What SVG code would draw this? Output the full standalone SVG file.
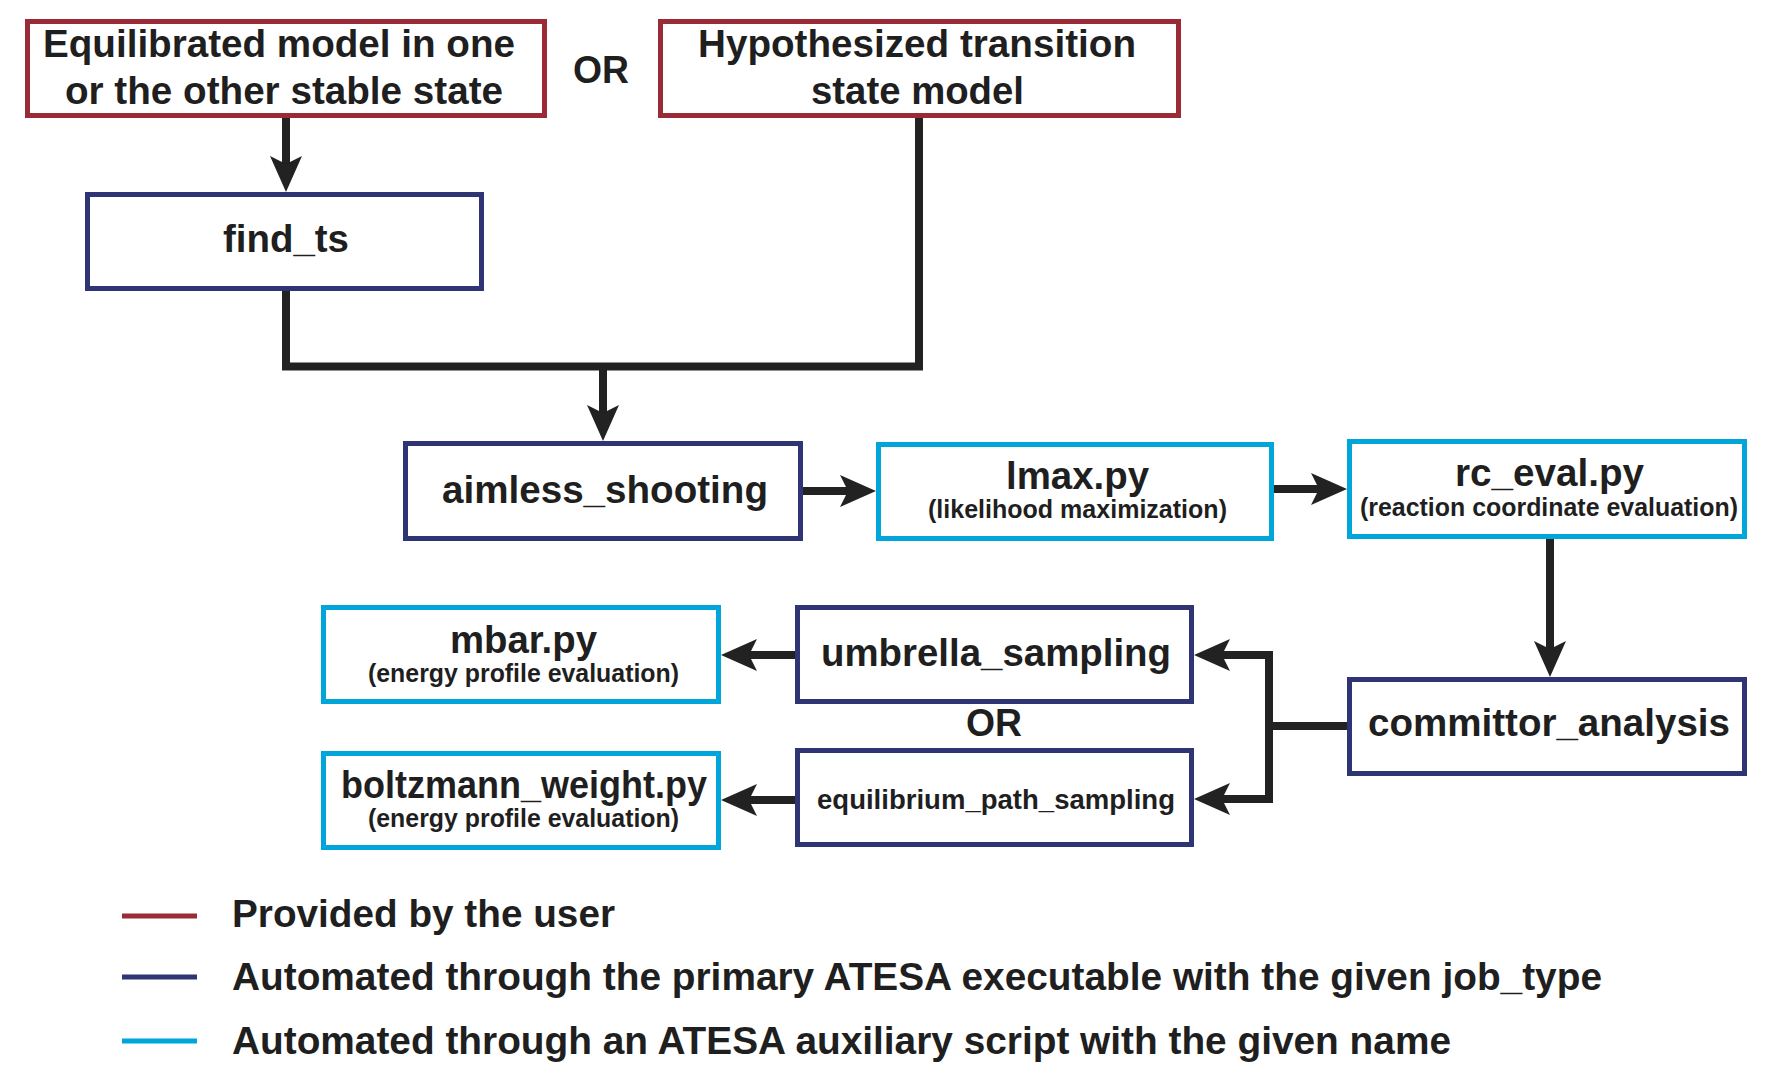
<svg xmlns="http://www.w3.org/2000/svg" width="1780" height="1080" viewBox="0 0 1780 1080">
  <style>
    .box { fill: #ffffff; stroke-width: 5; }
    .user { stroke: #9A2A35; }
    .job { stroke: #2F3474; }
    .aux { stroke: #00A6DA; }
    text { font-family: "Liberation Sans", Arial, sans-serif; font-weight: bold; fill: #1F1F1F; }
    .big { font-size: 38px; text-anchor: middle; }
    .sub { font-size: 25px; text-anchor: middle; }
    .mid { font-size: 27.5px; text-anchor: middle; }
    .leg { font-size: 38px; }
    .conn { fill: none; stroke: #222222; stroke-width: 8; stroke-linejoin: miter; }
    .legline { stroke-width: 5; }
  </style>
  <defs>
    <marker id="arr" markerUnits="userSpaceOnUse" markerWidth="36" markerHeight="32" viewBox="0 0 36 32" refX="8" refY="16" orient="auto-start-reverse">
      <path d="M0,0 L36,16 L0,32 L8,16 Z" fill="#222222"/>
    </marker>
  </defs>

  <g id="connectors">
    <path class="conn" d="M286,118 V164" marker-end="url(#arr)"/>
    <path class="conn" d="M286,291 V366.5 H919 V118"/>
    <path class="conn" d="M603,366.5 V413" marker-end="url(#arr)"/>
    <path class="conn" d="M803,491 H848" marker-end="url(#arr)"/>
    <path class="conn" d="M1274,489 H1319" marker-end="url(#arr)"/>
    <path class="conn" d="M1550,539 V649" marker-end="url(#arr)"/>
    <path class="conn" d="M1347,726 H1269"/>
    <path class="conn" d="M1222,655 H1269 V799 H1222" marker-start="url(#arr)" marker-end="url(#arr)"/>
    <path class="conn" d="M795,655 H749" marker-end="url(#arr)"/>
    <path class="conn" d="M795,800 H749" marker-end="url(#arr)"/>
  </g>

  <g id="node-equilibrated">
    <rect class="box user" x="27.5" y="21.5" width="517" height="94"/>
    <text class="big" x="279" y="57" textLength="472" lengthAdjust="spacingAndGlyphs">Equilibrated model in one</text>
    <text class="big" x="284" y="104" textLength="438" lengthAdjust="spacingAndGlyphs">or the other stable state</text>
  </g>

  <g id="or-top">
    <text class="big" x="601" y="83" textLength="56" lengthAdjust="spacingAndGlyphs">OR</text>
  </g>

  <g id="node-hypothesized">
    <rect class="box user" x="660.5" y="21.5" width="518" height="94"/>
    <text class="big" x="917" y="57" textLength="438" lengthAdjust="spacingAndGlyphs">Hypothesized transition</text>
    <text class="big" x="917.5" y="104" textLength="213" lengthAdjust="spacingAndGlyphs">state model</text>
  </g>

  <g id="node-find_ts">
    <rect class="box job" x="87.5" y="194.5" width="394" height="94"/>
    <text class="big" x="286" y="252" textLength="126" lengthAdjust="spacingAndGlyphs">find_ts</text>
  </g>

  <g id="node-aimless_shooting">
    <rect class="box job" x="405.5" y="443.5" width="395" height="95"/>
    <text class="big" x="605" y="503" textLength="326" lengthAdjust="spacingAndGlyphs">aimless_shooting</text>
  </g>

  <g id="node-lmax">
    <rect class="box aux" x="878.5" y="444.5" width="393" height="94"/>
    <text class="big" x="1077.5" y="489" textLength="143" lengthAdjust="spacingAndGlyphs">lmax.py</text>
    <text class="sub" x="1077.5" y="518" textLength="299" lengthAdjust="spacingAndGlyphs">(likelihood maximization)</text>
  </g>

  <g id="node-rc_eval">
    <rect class="box aux" x="1349.5" y="441.5" width="395" height="95"/>
    <text class="big" x="1549.5" y="486" textLength="189" lengthAdjust="spacingAndGlyphs">rc_eval.py</text>
    <text class="sub" x="1549" y="516" textLength="378" lengthAdjust="spacingAndGlyphs">(reaction coordinate evaluation)</text>
  </g>

  <g id="node-committor_analysis">
    <rect class="box job" x="1349.5" y="679.5" width="395" height="94"/>
    <text class="big" x="1549" y="736" textLength="362" lengthAdjust="spacingAndGlyphs">committor_analysis</text>
  </g>

  <g id="node-umbrella_sampling">
    <rect class="box job" x="797.5" y="607.5" width="394" height="94"/>
    <text class="big" x="996" y="666" textLength="350" lengthAdjust="spacingAndGlyphs">umbrella_sampling</text>
  </g>

  <g id="or-bottom">
    <text class="big" x="994" y="736" textLength="56" lengthAdjust="spacingAndGlyphs">OR</text>
  </g>

  <g id="node-equilibrium_path_sampling">
    <rect class="box job" x="797.5" y="750.5" width="394" height="94"/>
    <text class="mid" x="996" y="809" textLength="358" lengthAdjust="spacingAndGlyphs">equilibrium_path_sampling</text>
  </g>

  <g id="node-mbar">
    <rect class="box aux" x="323.5" y="607.5" width="395" height="94"/>
    <text class="big" x="523.5" y="653" textLength="147" lengthAdjust="spacingAndGlyphs">mbar.py</text>
    <text class="sub" x="523.5" y="682" textLength="311" lengthAdjust="spacingAndGlyphs">(energy profile evaluation)</text>
  </g>

  <g id="node-boltzmann_weight">
    <rect class="box aux" x="323.5" y="753.5" width="395" height="94"/>
    <text class="big" x="524" y="798" textLength="366" lengthAdjust="spacingAndGlyphs">boltzmann_weight.py</text>
    <text class="sub" x="523.5" y="827" textLength="311" lengthAdjust="spacingAndGlyphs">(energy profile evaluation)</text>
  </g>

  <g id="legend">
    <line class="legline user" x1="122" y1="916" x2="197" y2="916"/>
    <text class="leg" x="232" y="927" textLength="383" lengthAdjust="spacingAndGlyphs">Provided by the user</text>
    <line class="legline job" x1="122" y1="977" x2="197" y2="977"/>
    <text class="leg" x="232" y="990" textLength="1370" lengthAdjust="spacingAndGlyphs">Automated through the primary ATESA executable with the given job_type</text>
    <line class="legline aux" x1="122" y1="1041" x2="197" y2="1041"/>
    <text class="leg" x="232" y="1054" textLength="1219" lengthAdjust="spacingAndGlyphs">Automated through an ATESA auxiliary script with the given name</text>
  </g>
</svg>
